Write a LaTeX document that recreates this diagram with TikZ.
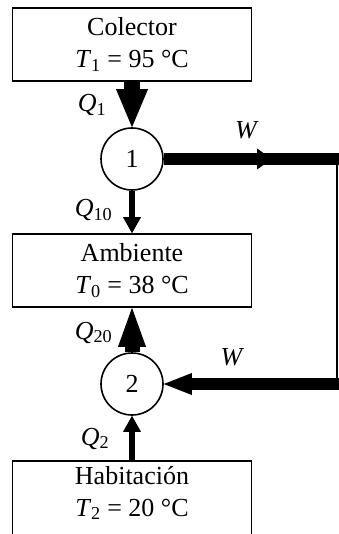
\documentclass[tikz,border=0pt]{standalone}
\usepackage{fontspec}
\setmainfont{Liberation Serif}
\usetikzlibrary{arrows.meta}
\begin{document}
\begin{tikzpicture}[x=1pt,y=-1pt,
  txt/.style={font=\fontsize{26}{32}\selectfont},
  box/.style={txt,draw,line width=1.6pt,minimum width=239pt,minimum height=73pt,inner sep=0pt,align=center},
  eng/.style={txt,draw,circle,line width=1.6pt,minimum size=62pt,inner sep=0pt},
  lab/.style={txt,anchor=base,inner sep=0pt,font=\fontsize{26}{32}\selectfont\itshape},
  bigheat/.style={line width=16pt,-{Triangle[width=32pt,length=38pt,line width=0pt]}},
  bigheatb/.style={line width=15pt,-{Triangle[width=28pt,length=39pt,line width=0pt]}},
  smallheat/.style={line width=6pt,-{Triangle[width=18pt,length=16pt,line width=0pt]}},
  workup/.style={line width=12pt,-{Triangle[width=21pt,length=15pt,line width=0pt]}},
  workdn/.style={line width=12pt,-{Triangle[width=22pt,length=28pt,line width=0pt]}},
  plain/.style={line width=12pt},
  thinwire/.style={line width=1.8pt}
]
\useasboundingbox (0,0) rectangle (339,534);
\clip (0,0) rectangle (339,534);

\node[box] (col) at (132,44.5) {Colector\\\textit{T}\textsubscript{1} = 95 °C};
\node[eng] (c1) at (132,159) {1};
\node[box] (amb) at (132,270.5) {Ambiente\\\textit{T}\textsubscript{0} = 38 °C};
\node[eng] (c2) at (132,384) {2};
\node[box,minimum height=80pt] (hab) at (132,501) {};
\node[txt,align=center,inner sep=0pt,yshift=8pt] (habt) at (hab.center) {Habitación\\\textit{T}\textsubscript{2} = 20 °C};

\coordinate (w1) at (272,159);
\coordinate (w1b) at (262,159);
\coordinate (wr) at (345,159);
\coordinate (vtop) at (337,159);
\coordinate (vbot) at (337,384);
\coordinate (wr2) at (345,384);

\draw[bigheat] (col.south) -- (c1.north);
\draw[smallheat] (c1.south) -- (amb.north);
\draw[bigheatb] (c2.north) -- (amb.south);
\draw[smallheat] (hab.north) -- (c2.south);
\draw[workup] (c1.east) -- (w1);
\draw[plain] (w1b) -- (wr);
\draw[thinwire] (vtop) -- (vbot);
\draw[workdn] (wr2) -- (c2.east);

\node[lab] (q1) at (92,112) {Q\textsubscript{\upshape 1}};
\node[lab] (q10) at (93.5,217) {Q\textsubscript{\upshape 10}};
\node[lab] (q20) at (93.5,339) {Q\textsubscript{\upshape 20}};
\node[lab] (q2) at (95,445) {Q\textsubscript{\upshape 2}};
\node[lab] (wa) at (246,139) {W};
\node[lab] (wb) at (231.5,365) {W};
\end{tikzpicture}
\end{document}
